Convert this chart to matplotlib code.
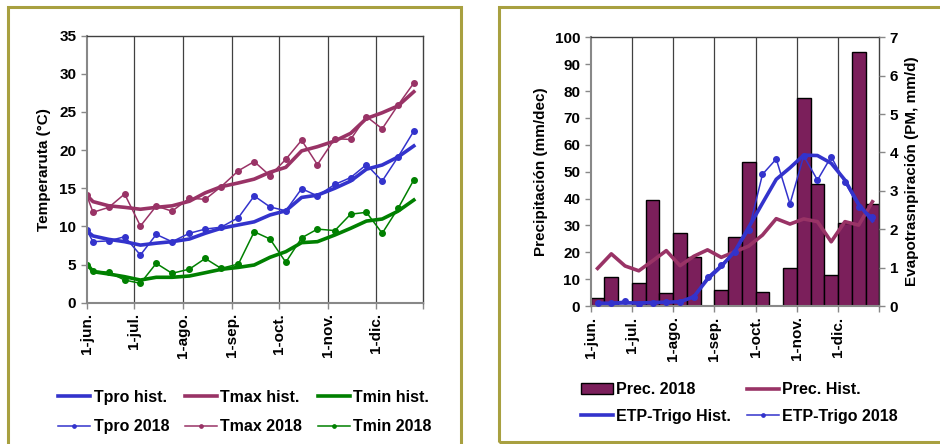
import matplotlib
matplotlib.use("Agg")
import matplotlib.pyplot as plt
from matplotlib.patches import Rectangle

plt.rcParams['font.family'] = ['Liberation Sans', 'DejaVu Sans']
plt.rcParams['font.weight'] = 'bold'

# ---- temperature data (one point per dekad, days counted from 1 June) ----
days = [0, 4, 14, 24, 34, 44, 54, 65, 75, 85, 96, 106, 116,
        126, 136, 146, 157, 167, 177, 187, 197, 207]
month_days = [0, 30, 61, 92, 122, 153, 183, 213]
month_labels = ['1-jun.', '1-jul.', '1-ago.', '1-sep.', '1-oct.', '1-nov.', '1-dic.', '']

tpro_hist = [9.4, 8.75, 8.3, 8.0, 7.55, 7.8, 8.0, 8.35, 9.1, 9.75, 10.2,
             10.6, 11.5, 12.05, 13.8, 14.1, 15.0, 15.95, 17.5, 18.05, 19.1, 20.55]
tmax_hist = [14.1, 13.25, 12.7, 12.5, 12.25, 12.5, 12.7, 13.3, 14.4, 15.2, 15.7,
             16.2, 17.1, 17.75, 19.9, 20.45, 21.2, 22.2, 24.15, 24.9, 25.8, 27.65]
tmin_hist = [5.16, 4.07, 3.76, 3.41, 2.97, 3.33, 3.33, 3.5, 3.93, 4.37, 4.63,
             4.94, 5.95, 6.69, 7.87, 8.0, 8.87, 9.75, 10.7, 10.97, 12.0, 13.46]
tpro_2018 = [9.5, 8.0, 8.1, 8.65, 6.25, 8.95, 8.0, 9.1, 9.65, 9.9, 11.15,
             14.0, 12.55, 12.05, 14.95, 14.0, 15.5, 16.4, 18.1, 15.95, 19.1, 22.5]
tmax_2018 = [14.1, 11.85, 12.5, 14.25, 10.05, 12.67, 12.0, 13.7, 13.55, 15.2, 17.3,
             18.5, 16.65, 18.8, 21.3, 18.1, 21.5, 21.4, 24.4, 22.8, 25.9, 28.8]
tmin_2018 = [4.94, 4.2, 3.98, 2.97, 2.54, 5.16, 3.85, 4.4, 5.8, 4.5, 5.07,
             9.3, 8.35, 5.3, 8.5, 9.65, 9.45, 11.6, 11.85, 9.1, 12.35, 16.1]

# ---- precipitation / ETP data (21 dekads, June..December) ----
prec_2018 = [2.9, 10.9, 0, 8.7, 39.4, 4.7, 27.3, 18.4, 0, 6.0, 25.8,
             53.5, 5.3, 0, 14.0, 77.3, 45.3, 11.5, 31.0, 94.4, 38.0]
prec_hist = [14.0, 19.4, 14.9, 13.1, 16.8, 20.6, 15.0, 18.5, 20.9, 18.1, 20.2,
             22.3, 26.4, 32.5, 30.5, 32.4, 31.4, 23.9, 31.4, 30.1, 38.8]
etp_hist = [0.07, 0.07, 0.08, 0.08, 0.09, 0.10, 0.11, 0.24, 0.70, 1.03, 1.43,
            2.05, 2.68, 3.30, 3.60, 3.93, 3.92, 3.72, 3.28, 2.65, 2.22]
etp_2018 = [0.09, 0.09, 0.13, 0.05, 0.09, 0.10, 0.11, 0.24, 0.76, 1.08, 1.40,
            1.97, 3.43, 3.83, 2.66, 3.91, 3.28, 3.89, 3.22, 2.59, 2.33]
dekad_idx = list(range(len(prec_2018)))
month_ticks = [-0.5, 2.5, 5.5, 8.5, 11.5, 14.5, 17.5, 20.5]

c_blue = '#3333CC'
c_plum = '#993366'
c_green = '#008000'
c_bar = '#7B1F5B'
c_olive = '#A8A040'

fig = plt.figure(figsize=(9.4, 4.44), dpi=100)

# olive panel frames
fig.add_artist(Rectangle((8 / 940, -0.05), 453 / 940, 1 - 7 / 444 + 0.05,
                         transform=fig.transFigure, fill=False,
                         edgecolor=c_olive, linewidth=2.2))
fig.add_artist(Rectangle((499 / 940, 2 / 444), 0.5, 1 - 9 / 444,
                         transform=fig.transFigure, fill=False,
                         edgecolor=c_olive, linewidth=2.2))


def style_box(ax):
    for s in ax.spines.values():
        s.set_color('#404040')
        s.set_linewidth(1.0)
    ax.spines['left'].set_color('#888888')
    ax.spines['bottom'].set_color('#888888')
    ax.spines['left'].set_linewidth(1.5)
    ax.spines['bottom'].set_linewidth(1.5)


# ---------------- left chart ----------------
ax1 = fig.add_axes([86.7 / 940, 1 - 302.7 / 444, 336.6 / 940, 267 / 444])
l_tpro_h, = ax1.plot(days, tpro_hist, color=c_blue, lw=2.6)
l_tmax_h, = ax1.plot(days, tmax_hist, color=c_plum, lw=2.6)
l_tmin_h, = ax1.plot(days, tmin_hist, color=c_green, lw=2.6)
l_tpro_18, = ax1.plot(days, tpro_2018, color=c_blue, lw=1.1, marker='o', ms=4)
l_tmax_18, = ax1.plot(days, tmax_2018, color=c_plum, lw=1.1, marker='o', ms=4)
l_tmin_18, = ax1.plot(days, tmin_2018, color=c_green, lw=1.1, marker='o', ms=4)
ax1.set_xlim(0, 213)
ax1.set_ylim(0, 35)
ax1.set_yticks(range(0, 36, 5))
ax1.set_xticks(month_days)
ax1.set_xticklabels(month_labels, rotation=90)
for d in month_days[1:-1]:
    ax1.axvline(d, color='#404040', lw=0.9, zorder=0)
ax1.tick_params(labelsize=11, length=4, width=1, color='#888888')
ax1.set_ylabel('Temperaruta (°C)', fontsize=11, fontweight='bold', labelpad=6)
style_box(ax1)

fig.legend([l_tpro_h, l_tpro_18, l_tmax_h, l_tmax_18, l_tmin_h, l_tmin_18],
           ['Tpro hist.', 'Tpro 2018', 'Tmax hist.', 'Tmax 2018',
            'Tmin hist.', 'Tmin 2018'],
           ncol=3, loc='center', bbox_to_anchor=(245 / 940, 1 - 412 / 444),
           frameon=False, prop={'size': 11.5, 'weight': 'bold'},
           handlelength=2.0, handletextpad=0.2, columnspacing=1.0,
           labelspacing=0.92, markerscale=0.6)

# ---------------- right chart ----------------
ax2 = fig.add_axes([590.7 / 940, 1 - 306 / 444, 288.6 / 940, 268.7 / 444])
bars = ax2.bar(dekad_idx, prec_2018, width=1.0, color=c_bar, edgecolor='black',
               linewidth=1.0, zorder=2)
l_prec_h, = ax2.plot(dekad_idx, prec_hist, color=c_plum, lw=2.6, zorder=3)
ax2.set_xlim(-0.5, 20.5)
ax2.set_ylim(0, 100)
ax2.set_yticks(range(0, 101, 10))
ax2.set_xticks(month_ticks)
ax2.set_xticklabels(month_labels, rotation=90)
for t in month_ticks[1:-1]:
    ax2.axvline(t, color='#404040', lw=0.9, zorder=0)
ax2.tick_params(labelsize=11, length=4, width=1, color='#888888')
ax2.set_ylabel('Precipitación (mm/dec)', fontsize=11, fontweight='bold', labelpad=5)
style_box(ax2)

ax3 = ax2.twinx()
l_etp_h, = ax3.plot(dekad_idx, etp_hist, color=c_blue, lw=2.6, zorder=4)
l_etp_18, = ax3.plot(dekad_idx, etp_2018, color=c_blue, lw=1.1, marker='o', ms=4,
                     zorder=5)
ax3.set_ylim(0, 7)
ax3.set_yticks(range(0, 8))
ax3.tick_params(labelsize=11, length=4, width=1, color='#888888')
ax3.set_ylabel('Evapotrasnpiración (PM, mm/d)', fontsize=11, fontweight='bold',
               labelpad=5)
for s in ax3.spines.values():
    s.set_visible(False)

fig.legend([bars, l_etp_h, l_prec_h, l_etp_18],
           ['Prec. 2018', 'ETP-Trigo Hist.', 'Prec. Hist.', 'ETP-Trigo 2018'],
           ncol=2, loc='center', bbox_to_anchor=(739 / 940, 1 - 403 / 444),
           frameon=False, prop={'size': 11.5, 'weight': 'bold'},
           handlelength=2.0, handletextpad=0.2, columnspacing=1.0,
           labelspacing=0.7, markerscale=0.6)

fig.savefig('out.png', dpi=100)
